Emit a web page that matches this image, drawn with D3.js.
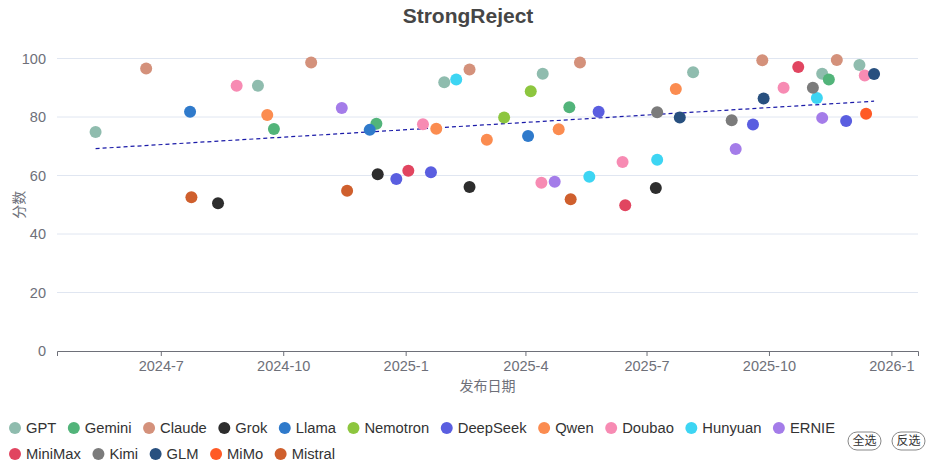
<!DOCTYPE html>
<html>
<head>
<meta charset="utf-8">
<script src="https://cdn.jsdelivr.net/npm/d3@7"></script>
<style>
  body { margin: 0; background: #fff; }
  svg { display: block; font-family: "Liberation Sans", "Noto Sans CJK SC", sans-serif; }
</style>
</head>
<body>
<svg id="chart" width="936" height="468"></svg>
<script>
// series (legend order) and their colours
const seriesNames = ['GPT', 'Gemini', 'Claude', 'Grok', 'Llama', 'Nemotron', 'DeepSeek', 'Qwen',
  'Doubao', 'Hunyuan', 'ERNIE', 'MiniMax', 'Kimi', 'GLM', 'MiMo', 'Mistral'];
const seriesColors = ['#8fbcae', '#52b47a', '#d4917b', '#2d2d2d', '#2f7acb', '#8dc63f', '#5a5ee0', '#fb8c50',
  '#f78bb3', '#3dd5f3', '#a47ce9', '#e14560', '#7b7b7b', '#28507f', '#ff5a26', '#cf5f2d'];

// [series, release date, score]
const points = [
  ['GPT', '2024-05-13', 74.9], ['GPT', '2024-09-12', 90.7], ['GPT', '2025-01-30', 91.9],
  ['GPT', '2025-04-14', 94.8], ['GPT', '2025-08-05', 95.3], ['GPT', '2025-11-10', 94.8],
  ['GPT', '2025-12-08', 97.8],
  ['Gemini', '2024-09-24', 75.9], ['Gemini', '2024-12-10', 77.7], ['Gemini', '2025-05-04', 83.3],
  ['Gemini', '2025-11-15', 92.8],
  ['Claude', '2024-06-20', 96.6], ['Claude', '2024-10-22', 98.6], ['Claude', '2025-02-18', 96.2],
  ['Claude', '2025-05-12', 98.6], ['Claude', '2025-09-26', 99.4], ['Claude', '2025-11-21', 99.5],
  ['Grok', '2024-08-13', 50.5], ['Grok', '2024-12-11', 60.4], ['Grok', '2025-02-18', 56.1],
  ['Grok', '2025-07-08', 55.7],
  ['Llama', '2024-07-23', 81.8], ['Llama', '2024-12-05', 75.6], ['Llama', '2025-04-03', 73.5],
  ['Nemotron', '2025-03-16', 79.8], ['Nemotron', '2025-04-05', 88.8],
  ['DeepSeek', '2024-12-25', 58.8], ['DeepSeek', '2025-01-20', 61.1], ['DeepSeek', '2025-05-26', 81.8],
  ['DeepSeek', '2025-09-19', 77.4], ['DeepSeek', '2025-11-28', 78.6],
  ['Qwen', '2024-09-19', 80.7], ['Qwen', '2025-01-24', 76.0], ['Qwen', '2025-03-03', 72.2],
  ['Qwen', '2025-04-26', 75.8], ['Qwen', '2025-07-23', 89.6],
  ['Doubao', '2024-08-27', 90.7], ['Doubao', '2025-01-14', 77.5], ['Doubao', '2025-04-13', 57.5],
  ['Doubao', '2025-06-13', 64.6], ['Doubao', '2025-10-12', 90.0], ['Doubao', '2025-12-12', 94.2],
  ['Hunyuan', '2025-02-08', 92.8], ['Hunyuan', '2025-05-19', 59.6], ['Hunyuan', '2025-07-09', 65.4],
  ['Hunyuan', '2025-11-06', 86.5],
  ['ERNIE', '2024-11-14', 83.1], ['ERNIE', '2025-04-23', 57.9], ['ERNIE', '2025-09-06', 69.1],
  ['ERNIE', '2025-11-10', 79.7],
  ['MiniMax', '2025-01-03', 61.6], ['MiniMax', '2025-06-15', 49.8], ['MiniMax', '2025-10-23', 97.1],
  ['Kimi', '2025-07-09', 81.6], ['Kimi', '2025-09-03', 78.9], ['Kimi', '2025-11-03', 90.0],
  ['GLM', '2025-07-26', 79.8], ['GLM', '2025-09-27', 86.3], ['GLM', '2025-12-19', 94.7],
  ['MiMo', '2025-12-13', 81.1],
  ['Mistral', '2024-07-24', 52.6], ['Mistral', '2024-11-18', 54.8], ['Mistral', '2025-05-05', 51.9],
];

// trend line end points
const trendDates = ['2024-05-13', '2025-12-19'];
const trendValues = [69.2, 85.4];

const yTicks = [0, 20, 40, 60, 80, 100];
const xTickDates = ['2024-07-01', '2024-10-01', '2025-01-01', '2025-04-01', '2025-07-01', '2025-10-01', '2026-01-01'];
const xDomain = ['2024-04-14', '2026-01-21'];
const legendRows = [11, 5];

const parse = d3.timeParse('%Y-%m-%d');
const svg = d3.select('#chart');

const margin = { left: 57, right: 18, top: 58.5, bottom: 117 };
const W = 936, H = 468;

const x = d3.scaleTime()
  .domain(xDomain.map(parse))
  .range([margin.left, W - margin.right]);
const y = d3.scaleLinear()
  .domain([0, 100])
  .range([H - margin.bottom, margin.top]);
const color = d3.scaleOrdinal().domain(seriesNames).range(seriesColors);

// title
svg.append('text')
  .attr('x', W / 2).attr('y', 23)
  .attr('text-anchor', 'middle')
  .style('font-size', '21px').style('font-weight', 'bold').style('fill', '#464646')
  .text('StrongReject');

// grid lines
svg.append('g')
  .selectAll('line')
  .data(yTicks.filter((d) => d > 0))
  .join('line')
  .attr('x1', margin.left).attr('x2', W - margin.right)
  .attr('y1', (d) => y(d)).attr('y2', (d) => y(d))
  .style('stroke', '#e0e6f1').style('stroke-width', 1);

// y axis (labels only)
const yAxis = svg.append('g')
  .attr('transform', `translate(${margin.left},0)`)
  .call(d3.axisLeft(y).tickValues(yTicks).tickSize(0).tickPadding(11));
yAxis.select('.domain').remove();
yAxis.selectAll('text')
  .style('font-size', '14.5px').style('fill', '#6e7079')
  .style('font-family', '"Liberation Sans", sans-serif');

// x axis
const xAxis = svg.append('g')
  .attr('transform', `translate(0,${y(0)})`)
  .call(d3.axisBottom(x)
    .tickValues(xTickDates.map(parse))
    .tickFormat((d) => `${d.getFullYear()}-${d.getMonth() + 1}`)
    .tickSizeOuter(0).tickSize(5).tickPadding(5));
xAxis.select('.domain').style('stroke', '#6e7079');
xAxis.selectAll('.tick line').style('stroke', '#6e7079');
xAxis.selectAll('text')
  .style('font-size', '14.5px').style('fill', '#6e7079')
  .style('font-family', '"Liberation Sans", sans-serif');

// axis titles
svg.append('text')
  .attr('x', (margin.left + W - margin.right) / 2).attr('y', 391)
  .attr('text-anchor', 'middle')
  .style('font-size', '14px').style('fill', '#6e7079')
  .text('发布日期');
svg.append('text')
  .attr('transform', `translate(24,${(y(0) + y(100)) / 2}) rotate(-90)`)
  .attr('text-anchor', 'middle')
  .style('font-size', '14px').style('fill', '#6e7079')
  .text('分数');

// trend line
svg.append('path')
  .datum(trendDates.map((d, i) => [parse(d), trendValues[i]]))
  .attr('d', d3.line().x((d) => x(d[0])).y((d) => y(d[1])))
  .style('fill', 'none')
  .style('stroke', '#1a1aa8')
  .style('stroke-width', 1.2)
  .style('stroke-dasharray', '4,3');

// points, drawn series by series
const pointData = seriesNames.flatMap((s) => points.filter((p) => p[0] === s));
svg.append('g')
  .selectAll('circle')
  .data(pointData)
  .join('circle')
  .attr('cx', (d) => x(parse(d[1])))
  .attr('cy', (d) => y(d[2]))
  .attr('r', 6)
  .style('fill', (d) => color(d[0]));

// legend
const legend = svg.append('g');
let idx = 0;
legendRows.forEach((count, row) => {
  let cx = 15;
  const cy = 428 + row * 26;
  seriesNames.slice(idx, idx + count).forEach((name) => {
    legend.append('circle')
      .attr('cx', cx).attr('cy', cy).attr('r', 6)
      .style('fill', color(name));
    const t = legend.append('text')
      .attr('x', cx + 11).attr('y', cy)
      .attr('dy', '0.35em')
      .style('font-size', '14.75px').style('fill', '#333')
      .text(name);
    cx += 11 + t.node().getComputedTextLength() + 17.5;
  });
  idx += count;
});

// select-all / invert buttons
const buttons = svg.append('g');
['全选', '反选'].forEach((label, i) => {
  const bx = 848 + i * 44;
  buttons.append('rect')
    .attr('x', bx).attr('y', 432).attr('width', 33).attr('height', 18)
    .attr('rx', 9)
    .style('fill', '#fff').style('stroke', '#888').style('stroke-width', 1);
  buttons.append('text')
    .attr('x', bx + 16.5).attr('y', 441).attr('dy', '0.35em')
    .attr('text-anchor', 'middle')
    .style('font-size', '12px').style('fill', '#333')
    .text(label);
});
</script>
</body>
</html>
